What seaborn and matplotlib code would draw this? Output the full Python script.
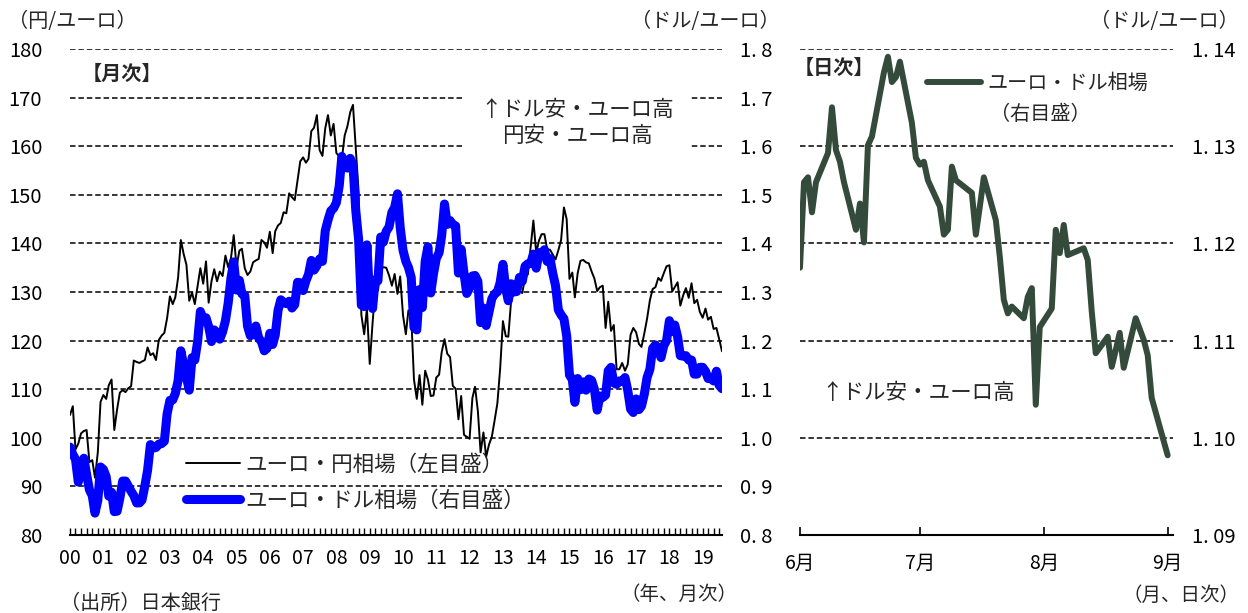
import numpy as np
import pandas as pd
import matplotlib
matplotlib.use("Agg")
import matplotlib.pyplot as plt
import matplotlib.dates as mdates
import seaborn as sns

# ---------------- data ----------------
# month-end rates, Jan 2000 - Aug 2019
months = pd.date_range("2000-01-01", periods=236, freq="MS")

eur_jpy = [
    104.7, 106.5, 97.6, 98.8, 100.9, 101.4, 101.6, 95.0, 95.4, 91.8, 97.0, 107.4,   # 2000
    108.8, 108.0, 110.8, 112.0, 101.6, 105.9, 109.3, 109.8, 109.4, 110.2, 110.6, 115.9,  # 2001
    115.6, 115.4, 115.7, 116.0, 118.6, 117.0, 117.4, 116.0, 120.1, 121.0, 121.6, 124.6,  # 2002
    129.1, 127.5, 128.9, 133.0, 140.7, 137.8, 135.6, 128.2, 129.9, 127.5, 131.3, 134.9,  # 2003
    131.7, 136.3, 127.8, 132.2, 134.7, 132.2, 134.2, 133.3, 137.5, 135.1, 137.0, 141.7,  # 2004
    135.2, 138.5, 138.9, 134.9, 133.5, 134.2, 136.1, 136.5, 136.8, 140.7, 140.2, 139.1,  # 2005
    142.4, 138.0, 142.5, 143.7, 144.2, 146.4, 146.2, 150.3, 149.5, 148.9, 153.0, 156.9,  # 2006
    157.7, 156.6, 157.4, 163.1, 163.8, 166.4, 159.2, 158.0, 163.7, 166.4, 162.2, 164.6,  # 2007
    158.6, 157.9, 157.4, 162.2, 164.1, 167.0, 168.5, 159.6, 150.5, 125.3, 121.3, 126.6,  # 2008
    115.2, 123.6, 130.2, 130.3, 134.8, 135.1, 135.0, 133.4, 131.3, 133.7, 129.6, 133.2,  # 2009
    125.2, 121.3, 126.2, 125.1, 112.0, 108.0, 112.9, 106.8, 113.8, 112.0, 108.6, 108.7,  # 2010
    112.4, 113.0, 117.6, 120.3, 117.3, 116.6, 110.7, 110.1, 103.8, 108.6, 100.6, 100.2,  # 2011
    99.8, 108.2, 110.5, 105.5, 97.0, 101.1, 96.1, 98.6, 100.2, 103.5, 107.1, 114.1,      # 2012
    124.0, 120.9, 120.8, 128.3, 130.7, 129.4, 130.2, 129.8, 133.0, 133.6, 139.2, 144.7,  # 2013
    138.1, 140.6, 141.9, 141.9, 138.8, 138.7, 137.7, 136.7, 138.6, 140.7, 147.4, 145.0,  # 2014
    132.7, 134.0, 128.9, 133.9, 136.4, 136.6, 136.1, 135.9, 134.2, 132.8, 130.2, 131.0,  # 2015
    131.3, 122.6, 128.0, 122.0, 123.2, 114.1, 114.1, 115.4, 113.8, 115.1, 121.2, 122.6,  # 2016
    121.7, 119.3, 118.7, 121.5, 124.5, 128.3, 130.6, 131.0, 132.9, 132.3, 133.9, 135.3,  # 2017
    135.5, 130.1, 131.0, 132.0, 127.2, 129.3, 130.8, 128.8, 131.8, 127.7, 128.4, 125.9,  # 2018
    124.7, 126.6, 124.3, 124.9, 122.4, 122.6, 120.3, 117.8,                              # 2019
]

eur_usd = [
    0.981, 0.966, 0.956, 0.909, 0.933, 0.958, 0.925, 0.893, 0.881, 0.845, 0.871, 0.940,  # 2000
    0.935, 0.920, 0.880, 0.888, 0.848, 0.849, 0.876, 0.911, 0.911, 0.901, 0.890, 0.881,  # 2001
    0.866, 0.866, 0.872, 0.901, 0.933, 0.986, 0.979, 0.980, 0.987, 0.988, 0.993, 1.049,  # 2002
    1.077, 1.078, 1.091, 1.118, 1.179, 1.150, 1.125, 1.098, 1.165, 1.160, 1.198, 1.260,  # 2003
    1.245, 1.247, 1.229, 1.198, 1.222, 1.216, 1.203, 1.218, 1.241, 1.277, 1.329, 1.362,  # 2004
    1.304, 1.324, 1.296, 1.293, 1.230, 1.210, 1.213, 1.230, 1.205, 1.198, 1.179, 1.184,  # 2005
    1.215, 1.192, 1.211, 1.262, 1.284, 1.279, 1.276, 1.281, 1.267, 1.274, 1.320, 1.319,  # 2006
    1.303, 1.323, 1.336, 1.365, 1.345, 1.354, 1.368, 1.363, 1.426, 1.448, 1.467, 1.472,  # 2007
    1.484, 1.518, 1.579, 1.560, 1.555, 1.575, 1.561, 1.467, 1.408, 1.273, 1.270, 1.397,  # 2008
    1.281, 1.266, 1.325, 1.323, 1.413, 1.403, 1.425, 1.434, 1.464, 1.474, 1.502, 1.433,  # 2009
    1.386, 1.363, 1.351, 1.330, 1.227, 1.222, 1.305, 1.268, 1.363, 1.393, 1.298, 1.337,  # 2010
    1.369, 1.381, 1.416, 1.481, 1.439, 1.447, 1.439, 1.436, 1.339, 1.388, 1.338, 1.297,  # 2011
    1.308, 1.333, 1.334, 1.322, 1.237, 1.267, 1.231, 1.258, 1.286, 1.296, 1.300, 1.319,  # 2012
    1.357, 1.306, 1.282, 1.317, 1.300, 1.301, 1.330, 1.322, 1.353, 1.358, 1.359, 1.378,  # 2013
    1.349, 1.381, 1.377, 1.387, 1.363, 1.369, 1.339, 1.313, 1.263, 1.253, 1.245, 1.210,  # 2014
    1.129, 1.120, 1.073, 1.122, 1.099, 1.115, 1.098, 1.121, 1.118, 1.100, 1.057, 1.086,  # 2015
    1.083, 1.088, 1.138, 1.145, 1.113, 1.110, 1.117, 1.116, 1.124, 1.098, 1.059, 1.052,  # 2016
    1.080, 1.058, 1.065, 1.090, 1.124, 1.141, 1.184, 1.191, 1.181, 1.165, 1.190, 1.200,  # 2017
    1.241, 1.219, 1.232, 1.208, 1.169, 1.168, 1.169, 1.160, 1.160, 1.131, 1.131, 1.145,  # 2018
    1.145, 1.137, 1.122, 1.122, 1.117, 1.137, 1.108, 1.101,                              # 2019
]

year_labels = ["00", "01", "02", "03", "04", "05", "06", "07", "08", "09",
               "10", "11", "12", "13", "14", "15", "16", "17", "18", "19"]
jpy_ticks = [80, 90, 100, 110, 120, 130, 140, 150, 160, 170, 180]
usd_ticks = [0.8, 0.9, 1.0, 1.1, 1.2, 1.3, 1.4, 1.5, 1.6, 1.7, 1.8]
usd_tick_labels = ["0. 8", "0. 9", "1. 0", "1. 1", "1. 2", "1. 3",
                   "1. 4", "1. 5", "1. 6", "1. 7", "1. 8"]

# daily EUR/USD, Jun - early Sep 2019
daily_dates = [
    "2019-06-03", "2019-06-04", "2019-06-05", "2019-06-06", "2019-06-07",
    "2019-06-10", "2019-06-11", "2019-06-12", "2019-06-13", "2019-06-14",
    "2019-06-17", "2019-06-18", "2019-06-19", "2019-06-20", "2019-06-21",
    "2019-06-24", "2019-06-25", "2019-06-26", "2019-06-27", "2019-06-28",
    "2019-07-01", "2019-07-02", "2019-07-03", "2019-07-04", "2019-07-05",
    "2019-07-08", "2019-07-09", "2019-07-10", "2019-07-11", "2019-07-12",
    "2019-07-16", "2019-07-17", "2019-07-18", "2019-07-19",
    "2019-07-22", "2019-07-23", "2019-07-24", "2019-07-25", "2019-07-26",
    "2019-07-29", "2019-07-30", "2019-07-31", "2019-08-01", "2019-08-02",
    "2019-08-05", "2019-08-06", "2019-08-07", "2019-08-08", "2019-08-09",
    "2019-08-13", "2019-08-14", "2019-08-15", "2019-08-16",
    "2019-08-19", "2019-08-20", "2019-08-21", "2019-08-22", "2019-08-23",
    "2019-08-26", "2019-08-27", "2019-08-28", "2019-08-29", "2019-08-30",
    "2019-09-03",
]
daily_eur_usd = [
    1.1175, 1.1263, 1.1268, 1.1232, 1.1263,
    1.1293, 1.1340, 1.1296, 1.1284, 1.1263,
    1.1214, 1.1241, 1.1201, 1.1301, 1.1310,
    1.1376, 1.1392, 1.1366, 1.1371, 1.1387,
    1.1324, 1.1288, 1.1281, 1.1284, 1.1265,
    1.1238, 1.1209, 1.1214, 1.1279, 1.1265,
    1.1252, 1.1209, 1.1238, 1.1268,
    1.1224, 1.1186, 1.1142, 1.1128, 1.1135,
    1.1123, 1.1145, 1.1154, 1.1034, 1.1114,
    1.1133, 1.1214, 1.1190, 1.1219, 1.1188,
    1.1195, 1.1183, 1.1130, 1.1087,
    1.1104, 1.1073, 1.1090, 1.1108, 1.1072,
    1.1123, 1.1112, 1.1101, 1.1085, 1.1041,
    1.0982,
]
daily_ticks = ["2019-06-03", "2019-07-03", "2019-08-03", "2019-09-03"]
daily_tick_labels = ["6月", "7月", "8月", "9月"]
daily_y_ticks = [1.09, 1.10, 1.11, 1.12, 1.13, 1.14]
daily_y_labels = ["1. 09", "1. 10", "1. 11", "1. 12", "1. 13", "1. 14"]

# ---------------- style ----------------
sns.set_theme(style="white")
plt.rcParams["font.family"] = ["Noto Sans CJK JP", "DejaVu Sans"]
plt.rcParams["axes.unicode_minus"] = False

W, H = 1248, 613
fig = plt.figure(figsize=(W / 100, H / 100), dpi=100)
fig.patch.set_facecolor("white")


def px_box(left, top, right, bottom):
    return [left / W, 1 - bottom / H, (right - left) / W, (bottom - top) / H]


def fx(x):
    return x / W


def fy(y):
    return 1 - y / H


GRID = dict(color="black", linestyle=(0, (3.6, 1.9)), linewidth=1.1)
BLUE = "#0000FF"
GREEN = "#344B3C"
TXT = 15.5

# ---------------- monthly panel ----------------
ax_l = fig.add_axes(px_box(70, 49, 722, 535))
ax_r = ax_l.twinx()

df_m = pd.DataFrame({"date": months, "jpy": eur_jpy, "usd": eur_usd})
sns.lineplot(data=df_m, x="date", y="jpy", ax=ax_l, color="black",
             linewidth=1.4, label="ユーロ・円相場（左目盛）")
sns.lineplot(data=df_m, x="date", y="usd", ax=ax_r, color=BLUE,
             linewidth=6.5, label="ユーロ・ドル相場（右目盛）")

ax_l.set_ylim(80, 180)
ax_r.set_ylim(0.8, 1.8)
ax_l.set_xlim(months[0], months[-1])
ax_l.set_yticks(jpy_ticks)
ax_l.set_yticklabels([str(v) for v in jpy_ticks])
ax_r.set_yticks(usd_ticks)
ax_r.set_yticklabels(usd_tick_labels)
ax_l.yaxis.grid(True, **GRID)
ax_l.xaxis.grid(False)
ax_r.grid(False)
ax_l.set_xlabel("")
ax_l.set_ylabel("")
ax_r.set_ylabel("")

year_starts = pd.date_range("2000-01-01", "2019-01-01", freq="YS")
ax_l.set_xticks(year_starts)
ax_l.set_xticklabels(year_labels)
ax_l.xaxis.set_minor_locator(mdates.MonthLocator(bymonth=[3, 5, 7, 9, 11]))

for a in (ax_l, ax_r):
    for s in ("left", "right", "top"):
        a.spines[s].set_visible(False)
ax_r.spines["bottom"].set_visible(False)
ax_l.spines["bottom"].set_color("black")
ax_l.spines["bottom"].set_linewidth(1.5)

ax_l.tick_params(axis="y", left=False, length=0, pad=20, labelsize=14.5,
                 labelcolor="black")
ax_r.tick_params(axis="y", right=False, length=0, pad=13, labelsize=14.5,
                 labelcolor="black")
ax_l.tick_params(axis="x", which="both", bottom=True, direction="in",
                 length=5, width=1, color="black", pad=9, labelsize=14,
                 labelcolor="black")

h1, l1 = ax_l.get_legend_handles_labels()
h2, l2 = ax_r.get_legend_handles_labels()
for a in (ax_l, ax_r):
    if a.get_legend() is not None:
        a.get_legend().remove()
ax_r.legend(h1 + h2, l1 + l2, loc="upper left",
            bbox_to_anchor=(fx(186), fy(454)), bbox_transform=fig.transFigure,
            frameon=False, fontsize=TXT, handlelength=2.5, handletextpad=0.25,
            labelspacing=0.65, borderpad=0, borderaxespad=0)

fig.text(fx(82), fy(73), "【月次】", fontsize=14.5, fontweight="bold",
         ha="left", va="center")
fig.text(fx(577), fy(123), "↑ドル安・ユーロ高\n円安・ユーロ高", fontsize=TXT,
         ha="center", va="center", multialignment="center", linespacing=1.25,
         bbox=dict(boxstyle="square,pad=0.75", fc="white", ec="none"))
fig.text(fx(8), fy(22), "（円/ユーロ）", fontsize=14.5, ha="left", va="center")
fig.text(fx(780), fy(22), "（ドル/ユーロ）", fontsize=14.5, ha="right", va="center")
fig.text(fx(738), fy(594), "（年、月次）", fontsize=14, ha="right", va="center")
fig.text(fx(60), fy(603), "（出所）日本銀行", fontsize=14.5, ha="left", va="center")

# ---------------- daily panel ----------------
ax_d = fig.add_axes(px_box(800, 49, 1173, 535))
df_d = pd.DataFrame({"date": pd.to_datetime(daily_dates), "usd": daily_eur_usd})
sns.lineplot(data=df_d, x="date", y="usd", ax=ax_d, color=GREEN,
             linewidth=4.3, label="ユーロ・ドル相場")
if ax_d.get_legend() is not None:
    ax_d.get_legend().remove()

ax_d.set_ylim(1.09, 1.14)
ax_d.set_xlim(pd.Timestamp("2019-06-03"), pd.Timestamp("2019-09-04 08:00"))
ax_d.yaxis.tick_right()
ax_d.set_yticks(daily_y_ticks)
ax_d.set_yticklabels(daily_y_labels)
ax_d.set_xticks(pd.to_datetime(daily_ticks))
ax_d.set_xticklabels(daily_tick_labels)
ax_d.yaxis.grid(True, **GRID)
ax_d.xaxis.grid(False)
ax_d.set_xlabel("")
ax_d.set_ylabel("")
for s in ("left", "right", "top"):
    ax_d.spines[s].set_visible(False)
ax_d.spines["bottom"].set_color("black")
ax_d.spines["bottom"].set_linewidth(1.5)
ax_d.tick_params(axis="y", right=False, left=False, length=0, pad=14,
                 labelsize=14.5, labelcolor="black")
ax_d.tick_params(axis="x", bottom=True, direction="in", length=6, width=1.2,
                 color="black", pad=13, labelsize=14, labelcolor="black")

hd, ld = ax_d.get_legend_handles_labels()
ax_d.legend(hd, ld, loc="upper left", bbox_to_anchor=(fx(927), fy(73)),
            bbox_transform=fig.transFigure, frameon=False, fontsize=14.5,
            handlelength=2.7, handletextpad=0.3, borderpad=0, borderaxespad=0)
fig.text(fx(990), fy(114), "（右目盛）", fontsize=14.5, ha="left", va="center")

fig.text(fx(794), fy(67), "【日次】", fontsize=14.5, fontweight="bold",
         ha="left", va="center")
fig.text(fx(821), fy(393), "↑ドル安・ユーロ高", fontsize=TXT, ha="left", va="center")
fig.text(fx(1239), fy(22), "（ドル/ユーロ）", fontsize=14.5, ha="right", va="center")
fig.text(fx(1239), fy(595), "（月、日次）", fontsize=14, ha="right", va="center")

fig.savefig("out.png", dpi=100, facecolor="white")
